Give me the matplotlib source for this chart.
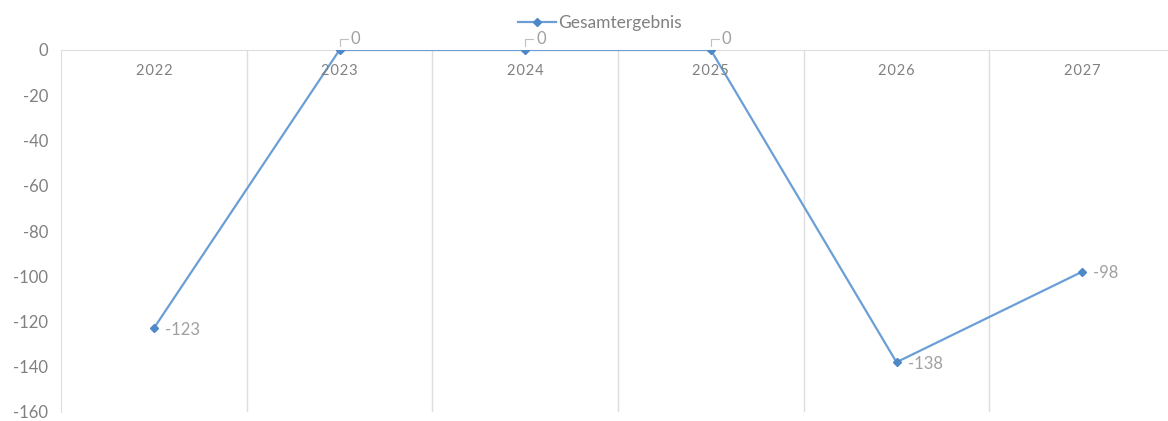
import matplotlib.pyplot as plt
import numpy as np

# chart data
years = ["2022", "2023", "2024", "2025", "2026", "2027"]
gesamtergebnis = [-123, 0, 0, 0, -138, -98]
y_ticks = [0, -20, -40, -60, -80, -100, -120, -140, -160]

plt.rcParams['font.family'] = ['Lato', 'DejaVu Sans']

line_color = "#6a9fd6"
marker_color = "#4f88c6"
grid_color = "#dedede"
tick_color = "#808080"
label_color = "#a0a0a0"

fig = plt.figure(figsize=(11.68, 4.21), dpi=100)
ax = fig.add_axes([61 / 1168, 9 / 421, 1114 / 1168, 362 / 421])

x = np.arange(len(years))
ax.plot(x, gesamtergebnis, color=line_color, lw=1.6, marker="D", ms=4.5,
        markerfacecolor=marker_color, markeredgecolor=marker_color,
        label="Gesamtergebnis", zorder=3)

ax.set_xlim(-0.5, len(years) - 0.5)
ax.set_ylim(-160, 0)

# vertical gridlines between categories
ax.set_xticks(x[:-1] + 0.5, minor=True)
ax.grid(True, which="minor", axis="x", color=grid_color, lw=1)
ax.set_xticks([])
ax.tick_params(axis="x", which="both", length=0)

ax.set_yticks(y_ticks)
ax.set_yticklabels([str(v) for v in y_ticks])
ax.tick_params(axis="y", length=0, pad=9, labelsize=12, labelcolor=tick_color)

for side in ["right", "bottom"]:
    ax.spines[side].set_visible(False)
ax.spines["left"].set_color(grid_color)
ax.spines["top"].set_color(grid_color)

# category labels sit just below the zero line
for i, yr in enumerate(years):
    ax.annotate("\u200a".join(yr), (i, 0), xytext=(0, -15), textcoords="offset points",
                ha="center", va="center", fontsize=10.5, color=tick_color)

# data labels
for i, v in enumerate(gesamtergebnis):
    if v == 0:
        ax.annotate(str(v), (i, v), xytext=(8, 8), textcoords="offset points",
                    ha="left", va="center", fontsize=12, color=label_color,
                    arrowprops=dict(arrowstyle="-", color="#bfbfbf", lw=0.8,
                                    shrinkA=0, shrinkB=3,
                                    connectionstyle="angle,angleA=0,angleB=90,rad=0"))
    else:
        ax.annotate(str(v), (i, v), xytext=(8, -1), textcoords="offset points",
                    ha="left", va="center", fontsize=12, color=label_color)

fig.legend(loc="upper center", bbox_to_anchor=(600 / 1168, 0.99), frameon=False,
           fontsize=12.5, labelcolor=tick_color, handlelength=2.2, handletextpad=0.1,
           borderaxespad=0.2)

fig.savefig("out.png", dpi=100)
